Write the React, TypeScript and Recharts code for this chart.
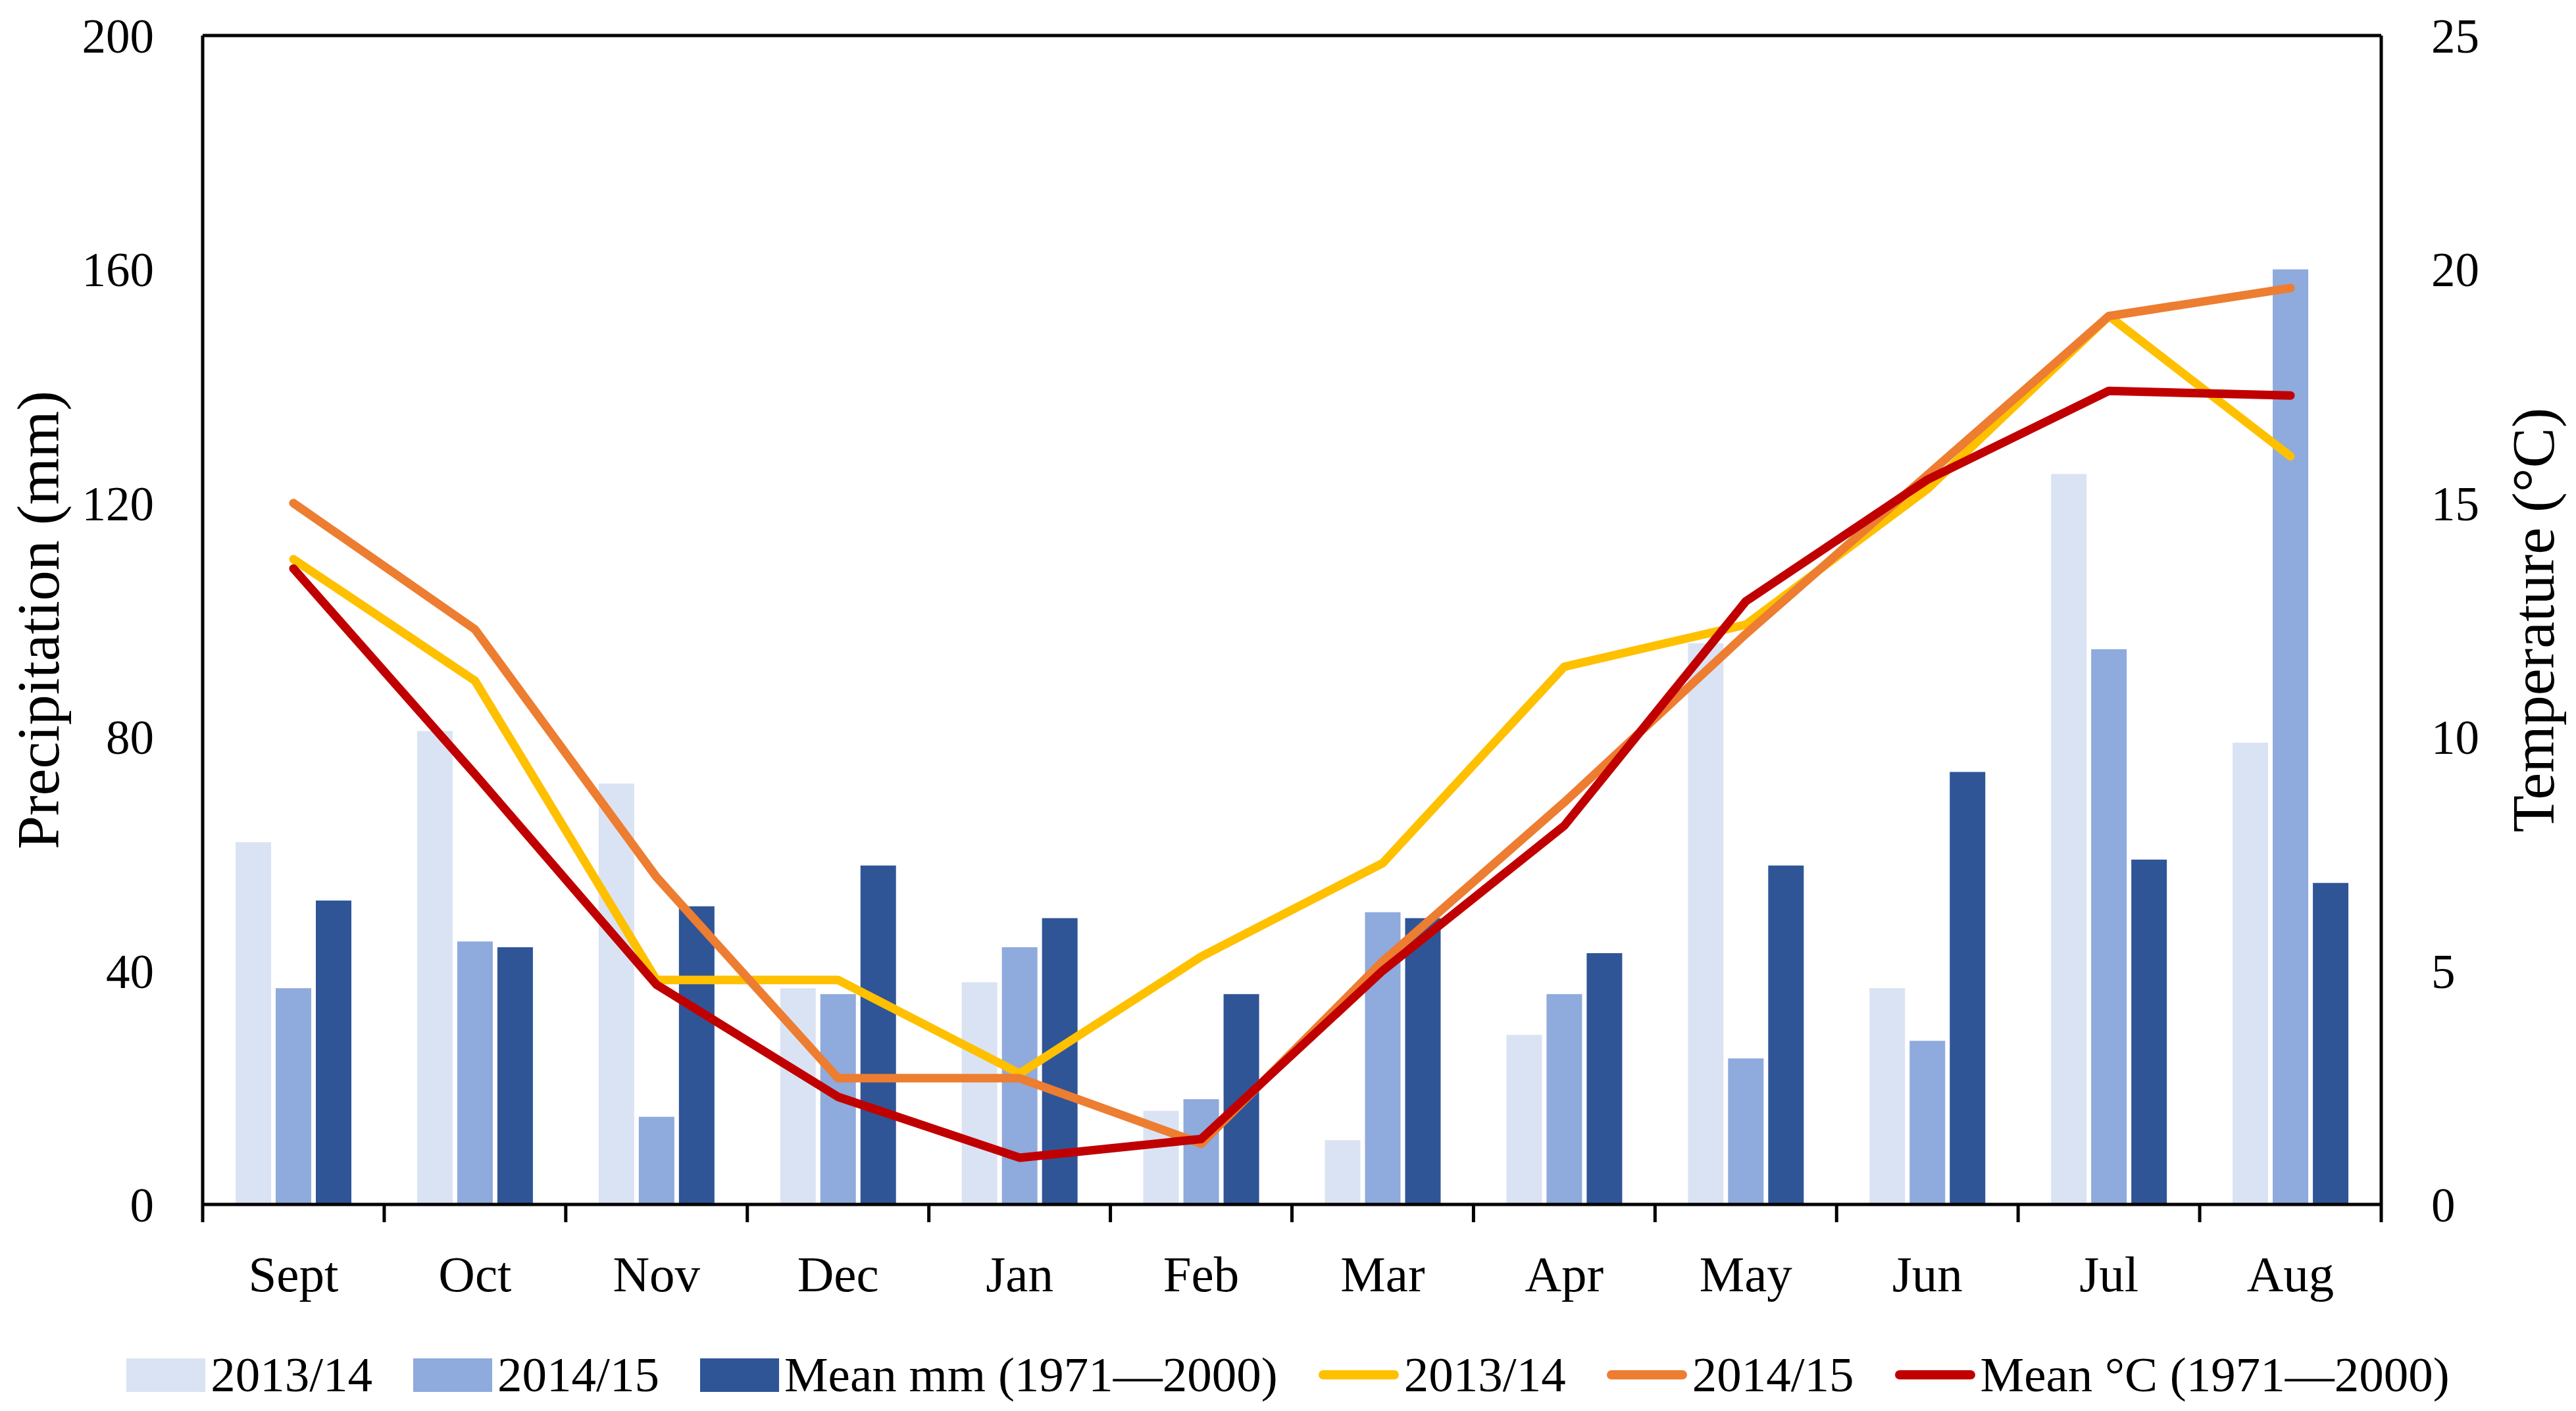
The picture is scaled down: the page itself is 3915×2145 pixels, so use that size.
import React from 'react';
import { ComposedChart, Bar, Line, XAxis, YAxis, ReferenceLine } from 'recharts';

const months = ['Sept', 'Oct', 'Nov', 'Dec', 'Jan', 'Feb', 'Mar', 'Apr', 'May', 'Jun', 'Jul', 'Aug'];

// precipitation (mm)
const precip1314 = [62, 81, 72, 37, 38, 16, 11, 29, 96, 37, 125, 79];
const precip1415 = [37, 45, 15, 36, 44, 18, 50, 36, 25, 28, 95, 160];
const precipMean = [52, 44, 51, 58, 49, 36, 49, 43, 58, 74, 59, 55];

// temperature (°C)
const temp1314 = [13.8, 11.2, 4.8, 4.8, 2.8, 5.3, 7.3, 11.5, 12.4, 15.3, 19.0, 16.0];
const temp1415 = [15.0, 12.3, 7.0, 2.7, 2.7, 1.3, 5.2, 8.6, 12.2, 15.6, 19.0, 19.6];
const tempMean = [13.6, 9.2, 4.7, 2.3, 1.0, 1.4, 5.0, 8.1, 12.9, 15.5, 17.4, 17.3];

const precipTicks = [0, 40, 80, 120, 160, 200];
const tempTicks = [0, 5, 10, 15, 20, 25];

const data = months.map((m, i) => ({
  month: m,
  p1314: precip1314[i],
  p1415: precip1415[i],
  pMean: precipMean[i],
  t1314: temp1314[i],
  t1415: temp1415[i],
  tMean: tempMean[i],
}));

const FONT = '"Liberation Serif", "Times New Roman", serif';
const W = 3899;
const H = 2129;
const LEFT_W = 300;
const RIGHT_W = 288;
const TOP = 46;
const X_H = 306;
const BAND = (W - LEFT_W - RIGHT_W) / months.length;

const COLORS = {
  light: '#DAE3F3',
  medium: '#8FAADC',
  dark: '#2F5597',
  yellow: '#FFC000',
  orange: '#ED7D31',
  red: '#C00000',
};

const MonthTick = (props: any) => {
  const { x, y, payload, index } = props;
  const last = index === months.length - 1;
  return (
    <g>
      <line x1={x - BAND / 2} x2={x - BAND / 2} y1={y} y2={y + 27} stroke="#000" strokeWidth={5} />
      {last && <line x1={x + BAND / 2} x2={x + BAND / 2} y1={y} y2={y + 27} stroke="#000" strokeWidth={5} />}
      <text x={x} y={y + 132} textAnchor="middle" fontFamily={FONT} fontSize={77} fill="#000">
        {payload.value}
      </text>
    </g>
  );
};

const legendItems = [
  { label: '2013/14', color: COLORS.light, kind: 'bar' },
  { label: '2014/15', color: COLORS.medium, kind: 'bar' },
  { label: 'Mean mm (1971\u20142000)', color: COLORS.dark, kind: 'bar' },
  { label: '2013/14', color: COLORS.yellow, kind: 'line' },
  { label: '2014/15', color: COLORS.orange, kind: 'line' },
  { label: 'Mean \u00b0C (1971\u20142000)', color: COLORS.red, kind: 'line' },
];

export default function App() {
  return (
    <div style={{ position: 'relative', width: W, height: H, background: '#fff' }}>
      <ComposedChart
        width={W}
        height={H}
        data={data}
        margin={{ top: TOP, right: 0, bottom: 0, left: 0 }}
        barGap={7}
      >
        <XAxis
          dataKey="month"
          height={X_H}
          axisLine={{ stroke: '#000', strokeWidth: 5 }}
          tickLine={false}
          tickSize={0}
          tickMargin={0}
          interval={0}
          tick={<MonthTick />}
        />
        <YAxis
          yAxisId="left"
          width={LEFT_W}
          domain={[0, 200]}
          ticks={precipTicks}
          axisLine={{ stroke: '#000', strokeWidth: 5 }}
          tickLine={false}
          tickSize={0}
          tickMargin={74}
          tick={{ fontFamily: FONT, fontSize: 73, fill: '#000' }}
          label={() => (
            <text
              x={50}
              y={TOP + (H - TOP - X_H) / 2}
              transform={`rotate(-90, 50, ${TOP + (H - TOP - X_H) / 2})`}
              textAnchor="middle"
              dominantBaseline="central"
              fontFamily={FONT}
              fontSize={92}
              fill="#000"
            >
              Precipitation (mm)
            </text>
          )}
        />
        <YAxis
          yAxisId="right"
          orientation="right"
          width={RIGHT_W}
          domain={[0, 25]}
          ticks={tempTicks}
          axisLine={{ stroke: '#000', strokeWidth: 5 }}
          tickLine={false}
          tickSize={0}
          tickMargin={76}
          tick={{ fontFamily: FONT, fontSize: 73, fill: '#000' }}
          label={() => (
            <text
              x={3842}
              y={TOP + (H - TOP - X_H) / 2}
              transform={`rotate(-90, 3842, ${TOP + (H - TOP - X_H) / 2})`}
              textAnchor="middle"
              dominantBaseline="central"
              fontFamily={FONT}
              fontSize={92}
              fill="#000"
            >
              Temperature (°C)
            </text>
          )}
        />
        <ReferenceLine yAxisId="left" y={200} stroke="#000" strokeWidth={5} />
        <Bar yAxisId="left" dataKey="p1314" fill={COLORS.light} barSize={54} isAnimationActive={false} />
        <Bar yAxisId="left" dataKey="p1415" fill={COLORS.medium} barSize={54} isAnimationActive={false} />
        <Bar yAxisId="left" dataKey="pMean" fill={COLORS.dark} barSize={54} isAnimationActive={false} />
        <Line yAxisId="right" type="linear" dataKey="t1314" stroke={COLORS.yellow} strokeWidth={13} dot={false} strokeLinecap="round" strokeLinejoin="round" isAnimationActive={false} />
        <Line yAxisId="right" type="linear" dataKey="t1415" stroke={COLORS.orange} strokeWidth={13} dot={false} strokeLinecap="round" strokeLinejoin="round" isAnimationActive={false} />
        <Line yAxisId="right" type="linear" dataKey="tMean" stroke={COLORS.red} strokeWidth={13} dot={false} strokeLinecap="round" strokeLinejoin="round" isAnimationActive={false} />
      </ComposedChart>
      <div
        style={{
          position: 'absolute',
          left: 0,
          right: 0,
          top: 2042,
          height: 80,
          display: 'flex',
          justifyContent: 'center',
          alignItems: 'center',
          gap: 62,
          fontFamily: FONT,
          fontSize: 75,
          color: '#000',
          whiteSpace: 'nowrap',
        }}
      >
        {legendItems.map((item, i) => (
          <div key={i} style={{ display: 'flex', alignItems: 'center', gap: 8 }}>
            {item.kind === 'bar' ? (
              <div style={{ width: 120, height: 51, background: item.color }} />
            ) : (
              <div style={{ width: 122, height: 14, borderRadius: 7, background: item.color }} />
            )}
            <span>{item.label}</span>
          </div>
        ))}
      </div>
    </div>
  );
}
